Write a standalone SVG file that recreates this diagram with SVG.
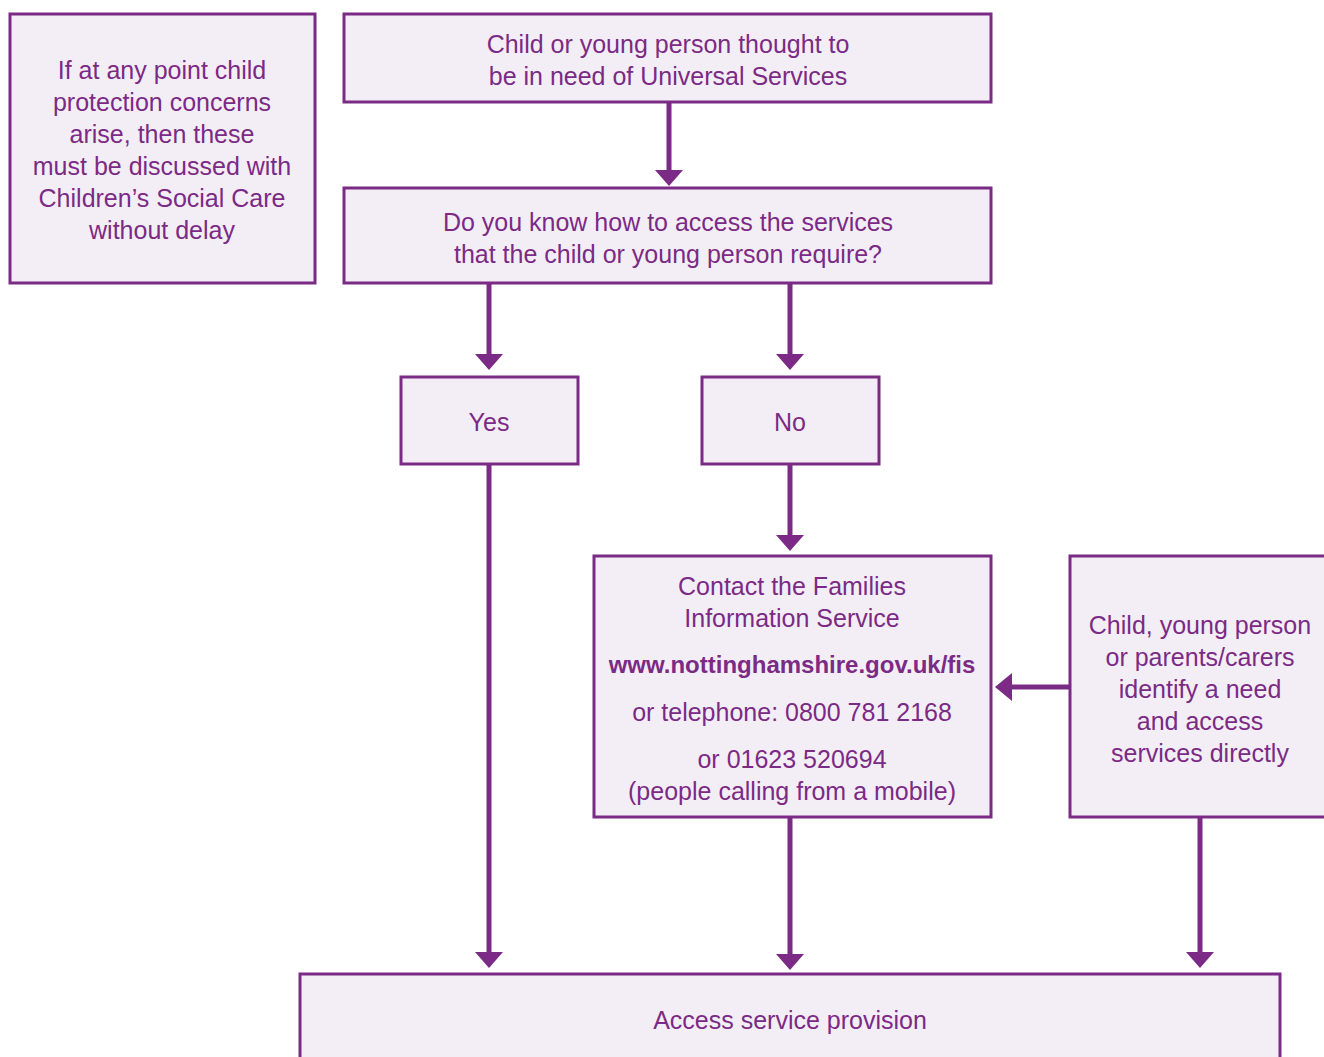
<svg xmlns="http://www.w3.org/2000/svg" width="1324" height="1057" viewBox="0 0 1324 1057">
<defs>
<style>
.box{fill:#F3EEF5;stroke:#7B2A85;stroke-width:3}
.t{font-family:"Liberation Sans",Arial,sans-serif;font-size:25px;fill:#7B2A85;text-anchor:middle}
.b{font-weight:bold;font-size:24px}
.c{stroke:#7B2A85;stroke-width:5;fill:none}
</style>
</defs>
<rect width="1324" height="1057" fill="#FFFFFF"/>
<g id="n-protect">
<rect class="box" x="10" y="14" width="305" height="269"/>
<text class="t" x="162" y="79">If at any point child</text>
<text class="t" x="162" y="111">protection concerns</text>
<text class="t" x="162" y="143">arise, then these</text>
<text class="t" x="162" y="175">must be discussed with</text>
<text class="t" x="162" y="207">Children’s Social Care</text>
<text class="t" x="162" y="239">without delay</text>
</g>
<g id="n-start">
<rect class="box" x="344" y="14" width="647" height="88"/>
<text class="t" x="668" y="53">Child or young person thought to</text>
<text class="t" x="668" y="85">be in need of Universal Services</text>
</g>
<g id="n-question">
<rect class="box" x="344" y="188" width="647" height="95"/>
<text class="t" x="668" y="231">Do you know how to access the services</text>
<text class="t" x="668" y="263">that the child or young person require?</text>
</g>
<g id="n-yes">
<rect class="box" x="401" y="377" width="177" height="87"/>
<text class="t" x="489" y="431">Yes</text>
</g>
<g id="n-no">
<rect class="box" x="702" y="377" width="177" height="87"/>
<text class="t" x="790" y="431">No</text>
</g>
<g id="n-contact">
<rect class="box" x="594" y="556" width="397" height="261"/>
<text class="t" x="792" y="595">Contact the Families</text>
<text class="t" x="792" y="627">Information Service</text>
<text class="t b" x="792" y="673">www.nottinghamshire.gov.uk/fis</text>
<text class="t" x="792" y="721">or telephone: 0800 781 2168</text>
<text class="t" x="792" y="768">or 01623 520694</text>
<text class="t" x="792" y="800">(people calling from a mobile)</text>
</g>
<g id="n-direct">
<rect class="box" x="1070" y="556" width="260" height="261"/>
<text class="t" x="1200" y="634">Child, young person</text>
<text class="t" x="1200" y="666">or parents/carers</text>
<text class="t" x="1200" y="698">identify a need</text>
<text class="t" x="1200" y="730">and access</text>
<text class="t" x="1200" y="762">services directly</text>
</g>
<g id="n-access">
<rect class="box" x="300" y="974" width="980" height="90"/>
<text class="t" x="790" y="1029">Access service provision</text>
</g>
<g id="connectors" fill="#7B2A85">
<line class="c" x1="669" y1="102" x2="669" y2="172"/>
<polygon points="655,170 683,170 669,186"/>
<line class="c" x1="489" y1="283" x2="489" y2="356"/>
<polygon points="475,354 503,354 489,370"/>
<line class="c" x1="790" y1="283" x2="790" y2="356"/>
<polygon points="776,354 804,354 790,370"/>
<line class="c" x1="489" y1="464" x2="489" y2="954"/>
<polygon points="475,952 503,952 489,968"/>
<line class="c" x1="790" y1="464" x2="790" y2="537"/>
<polygon points="776,535 804,535 790,551"/>
<line class="c" x1="790" y1="818" x2="790" y2="956"/>
<polygon points="776,954 804,954 790,970"/>
<line class="c" x1="1200" y1="818" x2="1200" y2="954"/>
<polygon points="1186,952 1214,952 1200,968"/>
<line class="c" x1="1069" y1="687" x2="1010" y2="687"/>
<polygon points="1012,673 1012,701 995,687"/>
</g>
</svg>
